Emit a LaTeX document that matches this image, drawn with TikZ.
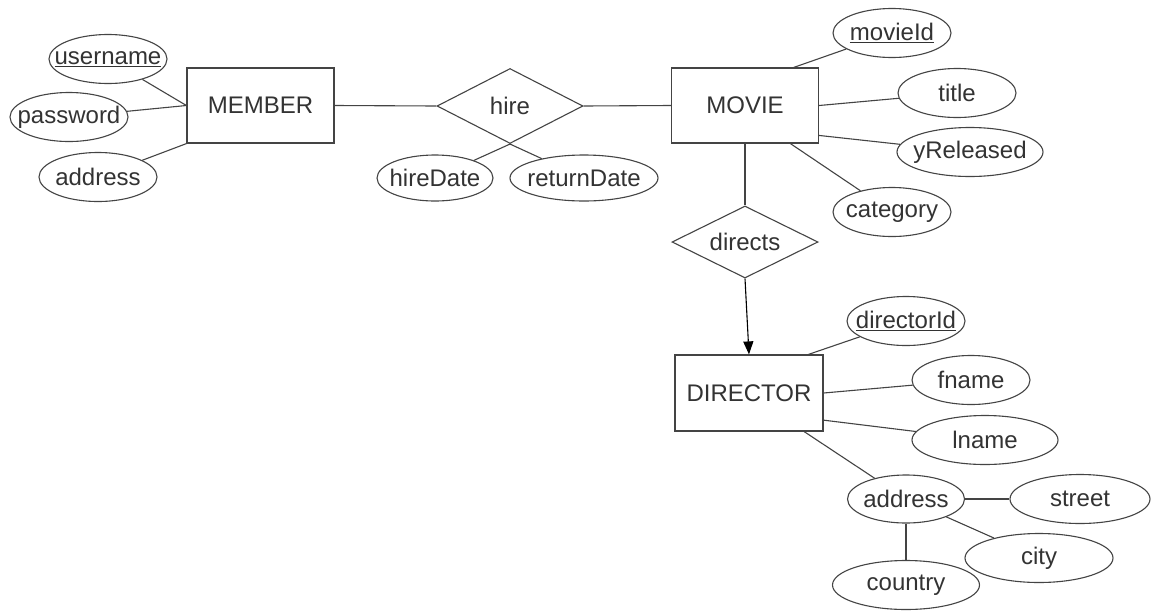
\documentclass[tikz,border=0pt]{standalone}
\usepackage{fontspec}
\setmainfont{Liberation Sans}
\usetikzlibrary{shapes.geometric,arrows.meta}
\definecolor{ink}{HTML}{333333}
\definecolor{stroke}{HTML}{444444}
\newcommand{\lbl}[1]{\makebox[0pt]{#1}}
\begin{document}
\begin{tikzpicture}[x=1pt,y=-1pt,
  every node/.style={font=\fontsize{24}{27}\selectfont, text=ink},
  entity/.style={draw=stroke, line width=1.2pt, rectangle, inner sep=0pt,
    minimum width=147pt, minimum height=75pt},
  attr/.style={draw=stroke, line width=1.1pt, ellipse, inner sep=0pt,
    minimum width=118pt, minimum height=49pt},
  wideattr/.style={attr, minimum width=147pt},
  rel/.style={draw=stroke, line width=1.1pt, diamond, inner sep=0pt,
    minimum width=146pt, minimum height=75pt},
  link/.style={draw=stroke, line width=1.1pt}]
\useasboundingbox[fill=white] (0,0) rectangle (1151,611);

% entities
\node[entity] (member) at (260.5,105.5) {MEMBER};
\node[entity] (movie) at (745,105.5) {MOVIE};
\node[entity, minimum width=148pt, minimum height=76pt] (director) at (749,393) {DIRECTOR};

% relationships
\node[rel] (hire) at (510,106) {\lbl{hire}};
\node[rel, minimum height=72pt] (directs) at (745,242) {\lbl{directs}};

% attributes of MEMBER
\node[attr] (username) at (108,59) {\lbl{\underline{username}}};
\node[attr] (password) at (69,117) {\lbl{password}};
\node[attr] (maddress) at (98,177) {\lbl{address}};

% attributes of hire
\node[attr, minimum width=116pt, minimum height=46pt] (hiredate) at (435,178) {\lbl{hireDate}};
\node[wideattr, minimum width=148pt, minimum height=46pt] (returndate) at (584,178) {\lbl{returnDate}};

% attributes of MOVIE
\node[attr] (movieid) at (892,33) {\lbl{\underline{movieId}}};
\node[attr] (title) at (957,93) {\lbl{title}};
\node[wideattr, minimum width=146pt] (yreleased) at (970,152) {\lbl{yReleased}};
\node[attr] (category) at (892,212) {\lbl{category}};

% attributes of DIRECTOR
\node[attr] (directorid) at (906,321) {\lbl{\underline{directorId}}};
\node[attr] (fname) at (971,380) {\lbl{fname}};
\node[wideattr, minimum width=146pt] (lname) at (985,440) {\lbl{lname}};
\node[attr, minimum width=117pt, minimum height=48pt] (daddress) at (906,499) {\lbl{address}};
\node[wideattr, minimum width=140pt] (street) at (1080,499) {\lbl{street}};
\node[wideattr, minimum width=148pt] (city) at (1039,558) {\lbl{city}};
\node[wideattr] (country) at (906,585) {\lbl{country}};

% connectors
\draw[link] (username) -- (member.west);
\draw[link] (password) -- (member.west);
\draw[link] (maddress) -- (member.south west);
\draw[link] (member.east) -- (hire.west);
\draw[link] (hire.east) -- (movie.west);
\draw[link] (hiredate) -- (hire.south);
\draw[link] (returndate) -- (hire.south);

\draw[link] (movieid) -- (movie.38);
\draw[link] (movie.east) -- (title);
\draw[link] (movie.-22) -- (yreleased);
\draw[link] (movie.-40) -- (category);
\draw[link] (movie.south) -- (directs.north);
\draw[link, -{Triangle[length=13pt,width=10pt]}, black] (directs.south) -- (director.north);

\draw[link] (directorid) -- (director.33);
\draw[link] (director.east) -- (fname);
\draw[link] (director.-20) -- (lname);
\draw[link] (director.-35) -- (daddress);
\draw[link] (daddress) -- (street);
\draw[link] (daddress) -- (city);
\draw[link] (daddress) -- (country);
\end{tikzpicture}
\end{document}
